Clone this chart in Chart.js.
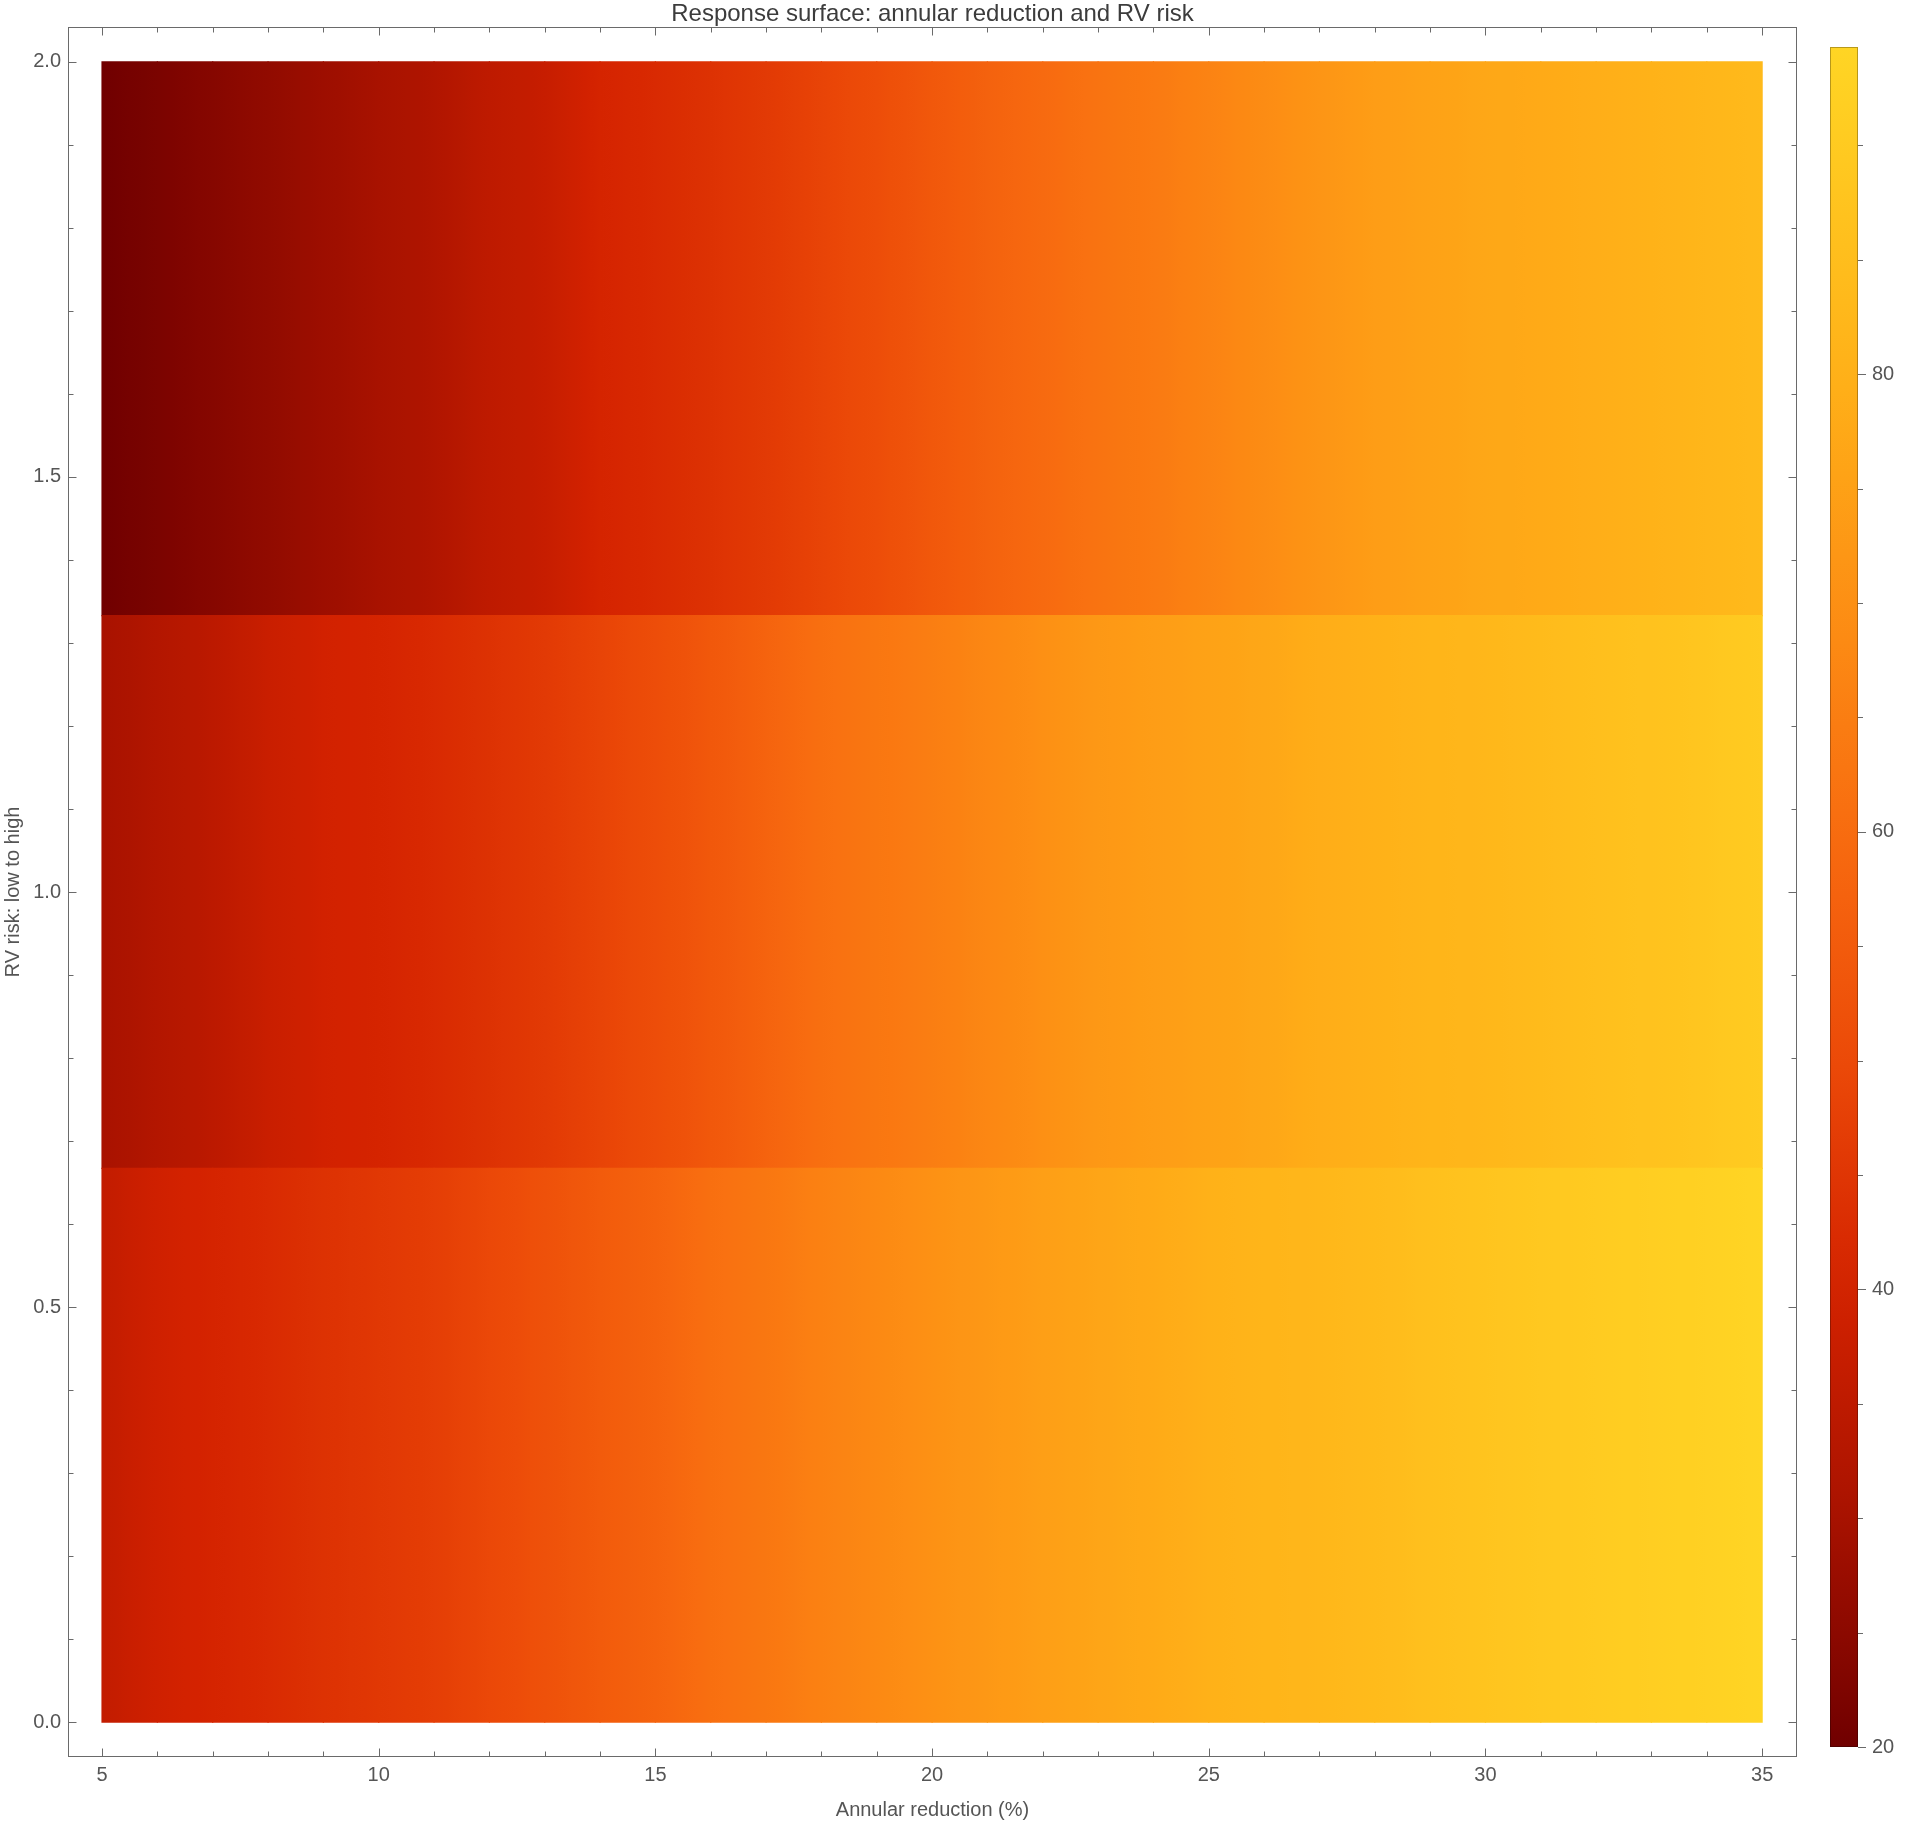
<!DOCTYPE html>
<html>
<head>
<meta charset="utf-8">
<title>Response surface: annular reduction and RV risk</title>
<script src="https://cdn.jsdelivr.net/npm/chart.js@4.4.1/dist/chart.umd.min.js"></script>
<style>
  html, body { margin: 0; padding: 0; background: #fff; }
  #wrap { position: relative; width: 1906px; height: 1822px; }
  #heat { position: absolute; left: 0; top: 0; }
  #scaleBar { position: absolute; left: 1800px; top: 0; }
</style>
</head>
<body>
<div id="wrap">
  <canvas id="heat" width="1800" height="1822"></canvas>
  <canvas id="scaleBar" width="106" height="1822"></canvas>
</div>
<script>
// Datos: reduccion anular (%) en el eje x
const annualReduction = [5, 6, 7, 8, 9, 10, 11, 12, 13, 14, 15, 16, 17, 18, 19, 20,
  21, 22, 23, 24, 25, 26, 27, 28, 29, 30, 31, 32, 33, 34, 35];

// Valor de la superficie para cada nivel de riesgo RV (bajo, medio, alto)
const lowRisk = [36, 39, 40.5, 42, 44, 45.5, 47, 49.5, 52, 55, 57.5, 61, 63, 66, 68, 70.5,
  72.5, 74.5, 76.5, 78, 80, 81.5, 82.5, 84, 86, 87.5, 89, 90.5, 91.5, 92.8, 94.3];
const midRisk = [30, 32.5, 34.5, 37.5, 39.5, 40.5, 42, 44, 46, 48.5, 51, 54, 57.5, 61, 63, 65,
  67.5, 70, 72.5, 74, 75.5, 77, 79, 80, 81.5, 82.5, 84, 85.5, 87, 88.5, 90.5];
const highRisk = [20, 22, 24, 26, 28, 30, 32, 35, 37, 40.5, 42, 44, 46, 48.5, 51, 54,
  57, 59.5, 62, 64, 66.5, 69, 71.5, 74, 75.5, 77, 78, 79.2, 80.5, 82, 83.5];

// Franjas del eje y (riesgo RV de bajo a alto)
const lowBand = [0, 0.667];
const midBand = [0.667, 1.333];
const highBand = [1.333, 2.0];

// Etiquetas de los ejes
const xTickLabels = [5, 10, 15, 20, 25, 30, 35];
const yTickLabels = ['0.0', '0.5', '1.0', '1.5', '2.0'];
const barTickLabels = [20, 40, 60, 80];

const allValues = lowRisk.concat(midRisk, highRisk);
const vMin = Math.min(...allValues);
const vMax = Math.max(...allValues);

const fontFamily = "'Liberation Sans', Arial, sans-serif";
const textColor = '#555';
const frameColor = '#6a6a6a';

// Escala de colores tipo "Solar"
const solarStops = [
  [0, '#700000'], [0.135, '#a81200'], [0.27, '#d42200'], [0.404, '#ec4a08'],
  [0.539, '#f86c10'], [0.674, '#fd9014'], [0.809, '#ffb118'], [1, '#ffd524']
];

function hexRgb(h) {
  return [parseInt(h.substr(1, 2), 16), parseInt(h.substr(3, 2), 16), parseInt(h.substr(5, 2), 16)];
}

function solarColor(v, dark) {
  let t = (v - vMin) / (vMax - vMin);
  t = Math.max(0, Math.min(1, t));
  let k = 0;
  while (k < solarStops.length - 2 && t > solarStops[k + 1][0]) k++;
  const a = solarStops[k], b = solarStops[k + 1];
  const f = (t - a[0]) / (b[0] - a[0]);
  const ca = hexRgb(a[1]), cb = hexRgb(b[1]);
  const m = dark ? 0.72 : 1;
  const c = ca.map((x, i) => Math.round((x + (cb[i] - x) * f) * m));
  return 'rgb(' + c.join(',') + ')';
}

// Cada franja se dibuja como barras flotantes entre dos valores de x consecutivos
function bandDataset(values, band) {
  const pts = [];
  for (let i = 0; i < annualReduction.length - 1; i++) {
    pts.push({ x: (annualReduction[i] + annualReduction[i + 1]) / 2, y: band });
  }
  return {
    data: pts,
    backgroundColor: function(c) {
      if (c.type !== 'data') return 'transparent';
      const i = c.dataIndex;
      const xs = c.chart.scales.x;
      const x0 = xs.getPixelForValue(annualReduction[i]);
      const x1 = xs.getPixelForValue(annualReduction[i + 1]);
      if (!isFinite(x0) || !isFinite(x1) || x0 === x1) return solarColor(values[i]);
      const g = c.chart.ctx.createLinearGradient(x0, 0, x1, 0);
      for (let k = 0; k <= 4; k++) {
        const t = k / 4;
        g.addColorStop(t, solarColor(values[i] + t * (values[i + 1] - values[i])));
      }
      return g;
    },
    borderWidth: 0,
    inflateAmount: 0.6,
    barPercentage: 1,
    categoryPercentage: 1,
    grouped: false
  };
}

// Marco con marcas hacia dentro en los cuatro lados
const frameTicks = {
  id: 'frameTicks',
  afterDraw(chart) {
    const { ctx, chartArea: a } = chart;
    const x = chart.scales.x, y = chart.scales.y;
    ctx.save();
    ctx.strokeStyle = frameColor;
    ctx.lineWidth = 1;
    const l = Math.round(a.left) + 0.5, r = Math.round(a.right) - 0.5;
    const t = Math.round(a.top) + 0.5, b = Math.round(a.bottom) - 0.5;
    ctx.strokeRect(l, t, r - l, b - t);
    ctx.beginPath();
    x.ticks.forEach(tk => {
      const px = Math.round(x.getPixelForValue(tk.value)) + 0.5;
      const len = xTickLabels.includes(tk.value) ? 8 : 5;
      ctx.moveTo(px, b); ctx.lineTo(px, b - len);
      ctx.moveTo(px, t); ctx.lineTo(px, t + len);
    });
    y.ticks.forEach(tk => {
      const py = Math.round(y.getPixelForValue(tk.value)) + 0.5;
      const len = yTickLabels.includes(tk.value.toFixed(1)) ? 8 : 5;
      ctx.moveTo(l, py); ctx.lineTo(l + len, py);
      ctx.moveTo(r, py); ctx.lineTo(r - len, py);
    });
    ctx.stroke();
    ctx.restore();
  }
};

new Chart(document.getElementById('heat'), {
  type: 'bar',
  data: {
    datasets: [
      bandDataset(lowRisk, lowBand),
      bandDataset(midRisk, midBand),
      bandDataset(highRisk, highBand)
    ]
  },
  options: {
    responsive: false,
    animation: false,
    devicePixelRatio: 1,
    layout: { padding: { left: 0, top: 0, right: 3, bottom: 0 } },
    plugins: {
      legend: { display: false },
      tooltip: { enabled: false },
      title: {
        display: true,
        text: 'Response surface: annular reduction and RV risk',
        fullSize: false,
        color: '#3c3c3c',
        font: { family: fontFamily, size: 24, weight: 'normal', lineHeight: 1 },
        padding: { top: 2, bottom: 1 }
      }
    },
    scales: {
      x: {
        type: 'linear',
        min: 4.385,
        max: 35.63,
        offset: false,
        stacked: false,
        grid: { display: false, drawTicks: false },
        border: { display: false },
        ticks: {
          stepSize: 1,
          includeBounds: false,
          autoSkip: false,
          maxRotation: 0,
          padding: 6,
          color: textColor,
          font: { family: fontFamily, size: 20 },
          callback: v => xTickLabels.includes(v) ? String(v) : ''
        },
        title: {
          display: true,
          text: 'Annular reduction (%)',
          color: textColor,
          font: { family: fontFamily, size: 20 },
          padding: { top: 0, bottom: 0 }
        },
        afterFit: s => { s.height = 65; }
      },
      y: {
        type: 'linear',
        min: -0.042,
        max: 2.042,
        stacked: false,
        grid: { display: false, drawTicks: false },
        border: { display: false },
        ticks: {
          stepSize: 0.1,
          includeBounds: false,
          autoSkip: false,
          padding: 7,
          color: textColor,
          font: { family: fontFamily, size: 20 },
          callback: v => { const s = v.toFixed(1); return yTickLabels.includes(s) ? s : ''; }
        },
        title: {
          display: true,
          text: 'RV risk: low to high',
          color: textColor,
          font: { family: fontFamily, size: 20 },
          padding: { top: 1, bottom: 0 }
        },
        afterFit: s => { s.width = 68; }
      }
    }
  },
  plugins: [frameTicks]
});

// Marcas de la barra de colores (hacia fuera)
const barTicks = {
  id: 'barTicks',
  afterDraw(chart) {
    const { ctx, chartArea: a } = chart;
    const y = chart.scales.y;
    ctx.save();
    ctx.strokeStyle = frameColor;
    ctx.lineWidth = 1;
    ctx.beginPath();
    y.ticks.forEach(tk => {
      const py = Math.round(y.getPixelForValue(tk.value)) + 0.5;
      const len = barTickLabels.includes(tk.value) ? 8 : 5;
      ctx.moveTo(a.right, py); ctx.lineTo(a.right + len, py);
    });
    ctx.stroke();
    ctx.restore();
  }
};

function barGradient(c, dark) {
  const a = c.chart.chartArea;
  if (!a) return solarColor(vMin, dark);
  const g = c.chart.ctx.createLinearGradient(0, a.bottom, 0, a.top);
  for (let k = 0; k <= 20; k++) {
    const t = k / 20;
    g.addColorStop(t, solarColor(vMin + t * (vMax - vMin), dark));
  }
  return g;
}

new Chart(document.getElementById('scaleBar'), {
  type: 'bar',
  data: {
    labels: ['valor'],
    datasets: [{
      data: [[vMin, vMax]],
      backgroundColor: c => barGradient(c, false),
      borderColor: c => barGradient(c, true),
      borderWidth: 1,
      borderSkipped: false,
      inflateAmount: 0,
      barPercentage: 1,
      categoryPercentage: 1
    }]
  },
  options: {
    responsive: false,
    animation: false,
    devicePixelRatio: 1,
    layout: { padding: { left: 30, top: 47, right: 0, bottom: 75 } },
    plugins: { legend: { display: false }, tooltip: { enabled: false } },
    scales: {
      x: { display: false },
      y: {
        position: 'right',
        min: vMin,
        max: vMax,
        grid: { display: false, drawTicks: false },
        border: { display: false },
        ticks: {
          stepSize: 5,
          includeBounds: false,
          autoSkip: false,
          padding: 14,
          color: textColor,
          font: { family: fontFamily, size: 20 },
          callback: v => barTickLabels.includes(v) ? String(v) : ''
        },
        afterFit: s => { s.width = 48; }
      }
    }
  },
  plugins: [barTicks]
});
</script>
</body>
</html>
